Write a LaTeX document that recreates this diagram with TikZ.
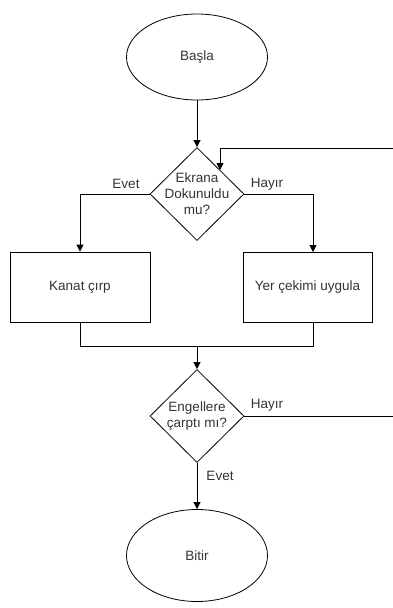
\documentclass[tikz,border=0pt]{standalone}
\usepackage{fontspec}
\setmainfont{Liberation Sans}
\usetikzlibrary{shapes.geometric,arrows.meta}
\begin{document}
\begin{tikzpicture}[x=1pt,y=-1pt,
  every node/.style={font=\fontsize{13.5}{16}\selectfont, text=black!80},
  term/.style={draw, ellipse, minimum width=141pt, minimum height=86pt, inner sep=0pt, line width=0.8pt},
  dec/.style={draw, diamond, minimum width=94pt, minimum height=93pt, inner sep=0pt, aspect=1, line width=0.8pt},
  proc/.style={draw, rectangle, minimum width=140pt, minimum height=70pt, inner sep=0pt, line width=0.8pt},
  conn/.style={line width=0.8pt, -{Triangle[length=7pt,width=7pt]}},
  plain/.style={line width=0.8pt},
  lbl/.style={inner sep=1pt}
]
\useasboundingbox (0,0) rectangle (393,608);
\node[term] (start) at (197,57) {Başla};
\node[dec] (d1) at (197,194) {};
\node[align=center] (d1t) at (197,194) {Ekrana\\Dokunuldu\\mu?};
\node[proc] (kanat) at (80,287) {Kanat çırp};
\node[proc, minimum width=129pt] (yer) at (307.5,287) {Yer çekimi uygula};
\node[dec] (d2) at (197,416) {};
\node[align=center] (d2t) at (197,416) {Engellere\\çarptı mı?};
\node[term, minimum height=92pt] (end) at (197,555.5) {Bitir};

\coordinate (ret) at (393,148);
\coordinate (ret2) at (220,148);
\coordinate (ret3) at (220,170);
\coordinate (yin) at (313,252);
\coordinate (yout) at (313,322);
\coordinate (out2) at (393,416);
\coordinate (merge) at (197,346);

\draw[conn] (start) -- (d1.north);
\draw[conn] (ret) -- (ret2) -- (ret3);
\draw[conn] (d1.west) -| (kanat.north);
\draw[conn] (d1.east) -| (yin);
\draw[plain] (kanat.south) |- (merge);
\draw[plain] (yout) |- (merge);
\draw[conn] (merge) -- (d2.north);
\draw[plain] (d2.east) -- (out2);
\draw[conn] (d2.south) -- (end.north);

\node[lbl] (l1) at (126,184) {Evet};
\node[lbl] (l2) at (267,184) {Hayır};
\node[lbl] (l3) at (267,405) {Hayır};
\node[lbl] (l4) at (220,476) {Evet};
\end{tikzpicture}
\end{document}
